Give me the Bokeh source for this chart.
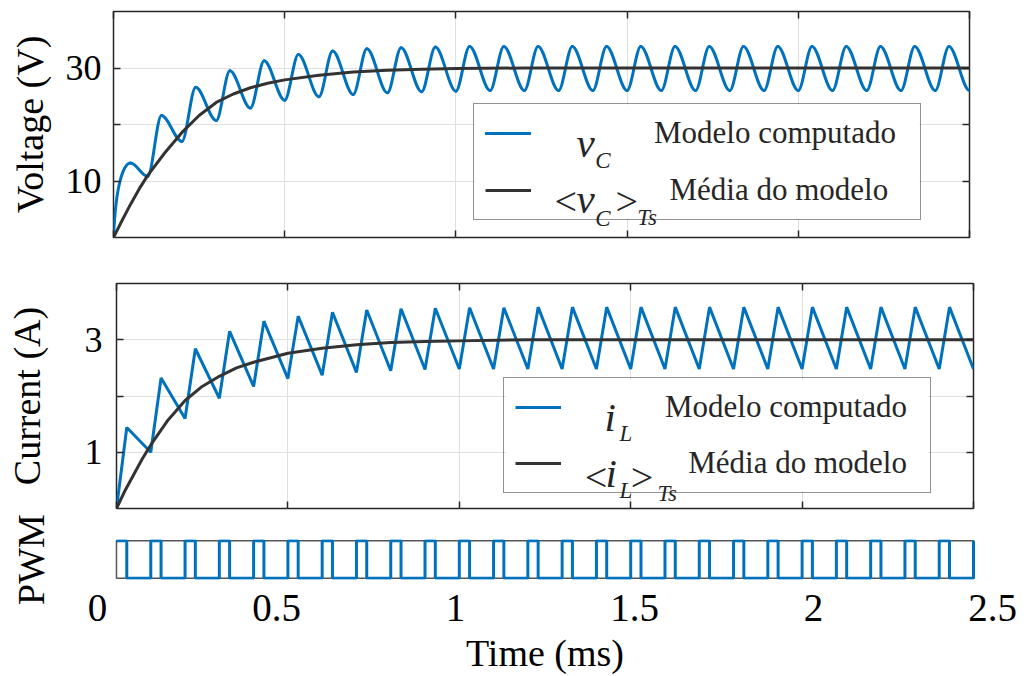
import numpy as np
from bokeh.plotting import figure
from bokeh.models import (Range1d, FixedTicker, LinearAxis, Legend, LegendItem, Label,
                          ColumnDataSource, BoxAnnotation)
from bokeh.layouts import column
from bokeh.embed import file_html
from bokeh.resources import INLINE

# ---------------- data ----------------
t_end = 2.5
# switch-on instants (start of each period) and switch-off instants, ms
t_on = [0.0, 0.1, 0.2, 0.3, 0.4, 0.5, 0.6, 0.7, 0.8, 0.9, 1.0, 1.1, 1.2, 1.3, 1.4,
        1.5, 1.6, 1.7, 1.8, 1.9, 2.0, 2.1, 2.2, 2.3, 2.4]
t_off = [0.03, 0.13, 0.23, 0.33, 0.43, 0.53, 0.63, 0.73, 0.83, 0.93, 1.03, 1.13, 1.23,
         1.33, 1.43, 1.53, 1.63, 1.73, 1.83, 1.93, 2.03, 2.13, 2.23, 2.33, 2.43]

# inductor current: peaks at t_off, valleys at t_on (+ final point at t_end)
iL_peak = [1.44, 2.32, 2.84, 3.15, 3.33, 3.42, 3.49, 3.53, 3.55, 3.56, 3.57, 3.57, 3.58,
           3.58, 3.58, 3.58, 3.58, 3.58, 3.58, 3.58, 3.58, 3.58, 3.58, 3.58, 3.58]
iL_valley = [0.0, 1.00, 1.60, 1.96, 2.17, 2.31, 2.37, 2.42, 2.45, 2.47, 2.48, 2.48, 2.48,
             2.48, 2.48, 2.48, 2.48, 2.48, 2.48, 2.48, 2.48, 2.48, 2.48, 2.48, 2.48, 2.48]

# capacitor voltage: valleys at t_on (+ t_end), peaks at vC_peak_t
vC_peak_t = [0.05, 0.14, 0.24, 0.34, 0.44, 0.54, 0.64, 0.74, 0.84, 0.94, 1.04, 1.14, 1.24,
             1.34, 1.44, 1.54, 1.64, 1.74, 1.84, 1.94, 2.04, 2.14, 2.24, 2.34, 2.44]
vC_peak = [13.2, 21.6, 26.6, 29.5, 31.3, 32.4, 33.0, 33.4, 33.6, 33.7, 33.8, 33.8, 33.8,
           33.8, 33.8, 33.8, 33.8, 33.8, 33.8, 33.8, 33.8, 33.8, 33.8, 33.8, 33.8]
vC_valley = [0.0, 10.8, 17.0, 20.7, 22.9, 24.3, 24.9, 25.3, 25.6, 25.8, 25.9, 26.0, 26.0,
             26.0, 26.0, 26.0, 26.0, 26.0, 26.0, 26.0, 26.0, 26.0, 26.0, 26.0, 26.0, 26.0]

# averaged model
avg_t = [0.0, 0.025, 0.05, 0.075, 0.1, 0.15, 0.2, 0.25, 0.3, 0.35, 0.4, 0.45, 0.5, 0.6,
         0.7, 0.8, 0.9, 1.0, 1.2, 1.5, 2.0, 2.5]
vC_avg = [0.0, 3.0, 5.9, 8.6, 11.0, 15.0, 18.6, 21.6, 23.9, 25.4, 26.5, 27.3, 27.9, 28.7,
          29.3, 29.6, 29.8, 29.9, 30.0, 30.0, 30.0, 30.0]
iL_avg = [0.0, 0.32, 0.60, 0.88, 1.13, 1.57, 1.92, 2.17, 2.35, 2.50, 2.60, 2.68, 2.76, 2.85,
          2.91, 2.95, 2.97, 2.98, 3.0, 3.0, 3.0, 3.0]

pwm_high, pwm_low = 1, 0

x_ticks = [0, 0.5, 1.0, 1.5, 2.0, 2.5]
x_tick_labels = ["0", "0.5", "1", "1.5", "2", "2.5"]
v_ticks = [10, 20, 30]
v_tick_labels = ["10", "", "30"]
i_ticks = [1, 2, 3]
i_tick_labels = ["1", "", "3"]

# ---------------- styles ----------------
FONT = "Liberation Serif"
BLUE = "#0072BD"
DARK = "#333333"
AX = "#262626"
GRID = "#dfdfdf"
W = 1020
NB = "\u00a0"


def no_align(p):
    if "frame_align" in p.properties():
        p.frame_align = False


def inner_axis(ax, ticks):
    ax.ticker = FixedTicker(ticks=ticks)
    ax.major_label_overrides = {t: "" for t in ticks}
    ax.major_label_text_font_size = "0px"
    ax.major_label_standoff = 0
    ax.major_tick_out = 0
    ax.major_tick_in = 7
    ax.minor_tick_in = 0
    ax.minor_tick_out = 0
    ax.major_tick_line_color = AX
    ax.major_tick_line_width = 1.5
    ax.axis_line_color = None


def panel(height, yr, mb, yticks, ylabels, ylabel, lab_standoff, tick_standoff):
    p = figure(width=W, height=height, x_range=Range1d(0, t_end), y_range=Range1d(*yr),
               output_backend="svg", toolbar_location=None,
               min_border_left=mb[0], min_border_right=mb[1],
               min_border_top=mb[2], min_border_bottom=mb[3])
    no_align(p)
    p.outline_line_color = AX
    p.outline_line_width = 1.5
    p.outline_line_alpha = 1.0
    p.background_fill_color = "white"
    p.border_fill_color = "white"
    top = LinearAxis()
    right = LinearAxis()
    p.add_layout(top, "above")
    p.add_layout(right, "right")
    inner_axis(p.below[0], x_ticks)
    inner_axis(top, x_ticks)
    inner_axis(right, yticks)
    ya = p.left[0]
    ya.ticker = FixedTicker(ticks=yticks)
    ya.major_label_overrides = dict(zip(yticks, ylabels))
    ya.major_label_text_font = FONT
    ya.major_label_text_font_size = "36px"
    ya.major_label_text_color = "black"
    ya.major_label_standoff = tick_standoff
    ya.major_tick_out = 0
    ya.major_tick_in = 7
    ya.minor_tick_in = 0
    ya.minor_tick_out = 0
    ya.major_tick_line_color = AX
    ya.major_tick_line_width = 1.5
    ya.axis_line_color = None
    ya.axis_label = ylabel
    ya.axis_label_text_font = FONT
    ya.axis_label_text_font_size = "38px"
    ya.axis_label_text_font_style = "normal"
    ya.axis_label_text_color = "black"
    ya.axis_label_standoff = lab_standoff
    p.xgrid.ticker = FixedTicker(ticks=x_ticks)
    p.ygrid.ticker = FixedTicker(ticks=yticks)
    p.grid.grid_line_color = GRID
    p.grid.grid_line_width = 1
    return p


def make_legend(p, r1, r2, loc, glyph_w, standoff, label_w, spacing, bg, indent):
    # white backdrop under the (transparent) legend so the math labels stay visible
    p.add_layout(BoxAnnotation(left=bg[0], right=bg[1], bottom=bg[2], top=bg[3],
                               fill_color="white", fill_alpha=1.0, line_color=None,
                               level="underlay"))
    leg = Legend(items=[LegendItem(label="Modelo computado", renderers=[r1]),
                        LegendItem(label=NB * indent + "Média do modelo", renderers=[r2])],
                 location=loc, orientation="vertical", padding=11, spacing=spacing, margin=0,
                 glyph_width=glyph_w, glyph_height=30, label_height=30, label_width=label_w,
                 label_standoff=standoff, label_text_font=FONT, label_text_font_size="31px",
                 label_text_color=AX, border_line_color=AX, border_line_width=1,
                 background_fill_color="white", background_fill_alpha=0.0)
    p.add_layout(leg)


def math(p, x, y, txt, size, italic=True):
    p.add_layout(Label(x=x, y=y, text=txt, text_font=FONT, text_font_size=size,
                       text_font_style="italic" if italic else "normal",
                       text_color=AX, text_align="left", text_baseline="alphabetic",
                       level="overlay"))


# ---------------- voltage panel ----------------
p1 = panel(257, (0, 40), (113, 51, 11, 20), v_ticks, v_tick_labels, "Voltage (V)", 12, 12)

ext_t, ext_v = [], []
for k in range(len(t_on)):
    ext_t += [t_on[k], vC_peak_t[k]]
    ext_v += [vC_valley[k], vC_peak[k]]
ext_t.append(t_end)
ext_v.append(vC_valley[-1])
x0 = np.array(ext_t[:-1]); x1 = np.array(ext_t[1:])
y0 = np.array(ext_v[:-1]); y1 = np.array(ext_v[1:])
dx = x1 - x0
cx0 = x0 + dx / 3; cy0 = y0.copy()
cx1 = x1 - dx / 3; cy1 = y1.copy()
cx0[0] = x0[0] + 0.15 * dx[0]; cy0[0] = y0[0] + 0.8 * (y1[0] - y0[0])
src_vc = ColumnDataSource(dict(x0=x0, y0=y0, x1=x1, y1=y1, cx0=cx0, cy0=cy0, cx1=cx1, cy1=cy1))
r_vc = p1.bezier(x0="x0", y0="y0", x1="x1", y1="y1", cx0="cx0", cy0="cy0", cx1="cx1",
                 cy1="cy1", source=src_vc, line_color=BLUE, line_width=3, line_cap="round")
r_vavg = p1.line(avg_t, vC_avg, line_color=DARK, line_width=3)
make_legend(p1, r_vc, r_vavg, (360, 17), 46, 123, 255, 21, (1.054, 2.354, 3.36, 23.54), 2)
math(p1, 1.352, 16.64, "v", "41px")
math(p1, 1.407, 13.63, "C", "23px")
math(p1, 1.288, 6.4, "<", "40px", italic=False)
math(p1, 1.352, 6.9, "v", "41px")
math(p1, 1.407, 3.36, "C", "23px")
math(p1, 1.466, 6.4, ">", "40px", italic=False)
math(p1, 1.530, 3.54, "Ts", "23px")

# ---------------- current panel ----------------
p2 = panel(253, (0, 4), (116, 47, 26, 2), i_ticks, i_tick_labels, "Current (A)", 34, 14)
il_t, il_v = [], []
for k in range(len(t_on)):
    il_t += [t_on[k], t_off[k]]
    il_v += [iL_valley[k], iL_peak[k]]
il_t.append(t_end)
il_v.append(iL_valley[-1])
r_il = p2.line(il_t, il_v, line_color=BLUE, line_width=3)
r_iavg = p2.line(avg_t, iL_avg, line_color=DARK, line_width=3)
make_legend(p2, r_il, r_iavg, (387, 15), 46, 104, 254, 20, (1.135, 2.368, 0.31, 2.285), 3)
math(p2, 1.4236, 1.618, "i", "41px")
math(p2, 1.467, 1.333, "L", "23px")
math(p2, 1.366, 0.56, "<", "40px", italic=False)
math(p2, 1.4265, 0.64, "i", "41px")
math(p2, 1.467, 0.32, "L", "23px")
math(p2, 1.500, 0.56, ">", "40px", italic=False)
math(p2, 1.578, 0.267, "Ts", "23px")

# ---------------- PWM panel + time axis ----------------
p3 = figure(width=W, height=166, x_range=Range1d(0, t_end), y_range=Range1d(-0.03, 1.03),
            output_backend="svg", toolbar_location=None,
            min_border_left=97, min_border_right=28, min_border_top=29, min_border_bottom=97)
no_align(p3)
p3.outline_line_color = None
p3.background_fill_color = "white"
p3.border_fill_color = "white"
p3.grid.visible = False
p3.extra_x_ranges = {"pwm": Range1d(-0.0554, 2.5554)}
pwm_t, pwm_v = [], []
for k in range(len(t_on)):
    pwm_t += [t_on[k], t_off[k]]
    pwm_v += [pwm_high, pwm_low]
pwm_t.append(t_end)
pwm_v.append(pwm_high)
p3.quad(left=[min(pwm_t)], right=[max(pwm_t)], bottom=[min(pwm_v)], top=[max(pwm_v)],
        x_range_name="pwm", fill_color=None, line_color="#555555", line_width=1.5)
p3.step(pwm_t, pwm_v, mode="after", x_range_name="pwm", line_color=BLUE, line_width=3)

xa = p3.below[0]
xa.ticker = FixedTicker(ticks=x_ticks)
xa.major_label_overrides = dict(zip(x_ticks, x_tick_labels))
xa.major_label_text_font = FONT
xa.major_label_text_font_size = "39px"
xa.major_label_text_color = "black"
xa.major_label_standoff = 15
xa.major_tick_in = 0
xa.major_tick_out = 0
xa.minor_tick_in = 0
xa.minor_tick_out = 0
xa.axis_line_color = None
xa.axis_label = "Time (ms)"
xa.axis_label_text_font = FONT
xa.axis_label_text_font_size = "38px"
xa.axis_label_text_font_style = "normal"
xa.axis_label_text_color = "black"
xa.axis_label_standoff = 8

ya = p3.left[0]
ya.ticker = FixedTicker(ticks=[])
ya.major_label_standoff = 0
ya.major_tick_in = 0
ya.major_tick_out = 0
ya.minor_tick_in = 0
ya.minor_tick_out = 0
ya.axis_line_color = None
ya.axis_label = "PWM"
ya.axis_label_text_font = FONT
ya.axis_label_text_font_size = "38px"
ya.axis_label_text_font_style = "normal"
ya.axis_label_text_color = "black"
ya.axis_label_standoff = 46

layout = column(p1, p2, p3, spacing=0)
open("out.html", "w").write(file_html(layout, INLINE))
